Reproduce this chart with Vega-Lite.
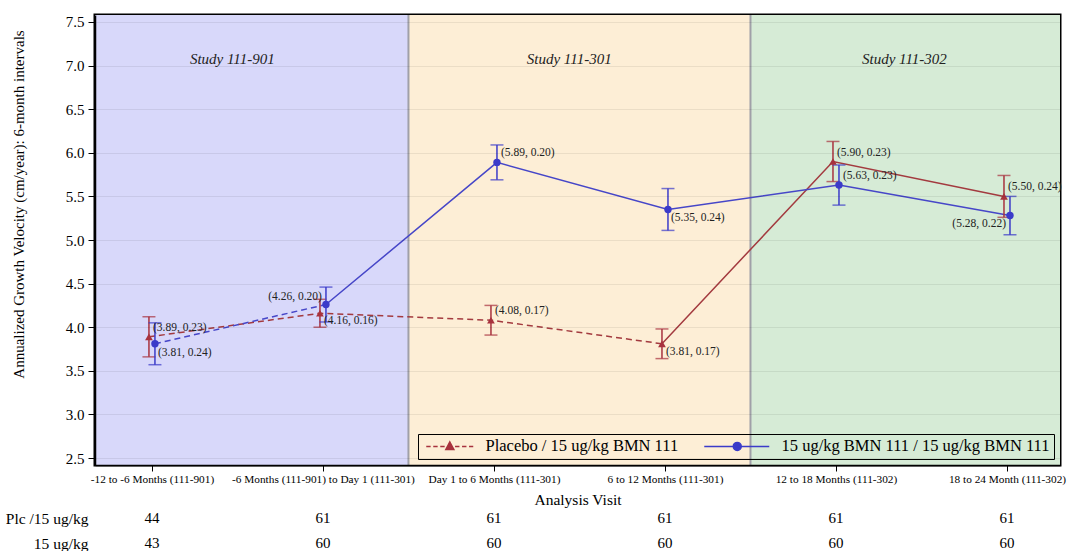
{
  "$schema": "https://vega.github.io/schema/vega-lite/v6.json",
  "background": "white",
  "padding": {"left": 5, "top": 12, "right": 5, "bottom": 0},
  "spacing": 0,
  "resolve": {"scale": {"color": "independent", "fill": "independent"}, "legend": {"color": "independent", "fill": "independent"}},
  "config": {
    "font": "Liberation Serif",
    "view": {"stroke": null},
    "axis": {"labelColor": "#000", "titleColor": "#000", "tickColor": "#000", "domainColor": "#000", "titleFontWeight": "normal", "labelFont": "Liberation Serif", "titleFont": "Liberation Serif"},
    "legend": {
      "title": null, "orient": "bottom-right", "direction": "horizontal", "offset": 6, "padding": 4,
      "strokeColor": "#000", "labelFont": "Liberation Serif", "labelFontSize": 16.5, "labelColor": "#000",
      "symbolSize": 64, "labelOffset": 47, "columnPadding": 22, "symbolStrokeWidth": 1.5, "labelLimit": 400
    }
  },
  "datasets": {
    "pts": [
      {"series": "Placebo / 15 ug/kg BMN 111", "idx": 0, "mean": 3.89, "se": 0.23, "label": "(3.89, 0.23)"},
      {"series": "Placebo / 15 ug/kg BMN 111", "idx": 1, "mean": 4.16, "se": 0.16, "label": "(4.16, 0.16)"},
      {"series": "Placebo / 15 ug/kg BMN 111", "idx": 2, "mean": 4.08, "se": 0.17, "label": "(4.08, 0.17)"},
      {"series": "Placebo / 15 ug/kg BMN 111", "idx": 3, "mean": 3.81, "se": 0.17, "label": "(3.81, 0.17)"},
      {"series": "Placebo / 15 ug/kg BMN 111", "idx": 4, "mean": 5.90, "se": 0.23, "label": "(5.90, 0.23)"},
      {"series": "Placebo / 15 ug/kg BMN 111", "idx": 5, "mean": 5.50, "se": 0.24, "label": "(5.50, 0.24)"},
      {"series": "15 ug/kg BMN 111 / 15 ug/kg BMN 111", "idx": 0, "mean": 3.81, "se": 0.24, "label": "(3.81, 0.24)"},
      {"series": "15 ug/kg BMN 111 / 15 ug/kg BMN 111", "idx": 1, "mean": 4.26, "se": 0.20, "label": "(4.26, 0.20)"},
      {"series": "15 ug/kg BMN 111 / 15 ug/kg BMN 111", "idx": 2, "mean": 5.89, "se": 0.20, "label": "(5.89, 0.20)"},
      {"series": "15 ug/kg BMN 111 / 15 ug/kg BMN 111", "idx": 3, "mean": 5.35, "se": 0.24, "label": "(5.35, 0.24)"},
      {"series": "15 ug/kg BMN 111 / 15 ug/kg BMN 111", "idx": 4, "mean": 5.63, "se": 0.23, "label": "(5.63, 0.23)"},
      {"series": "15 ug/kg BMN 111 / 15 ug/kg BMN 111", "idx": 5, "mean": 5.28, "se": 0.22, "label": "(5.28, 0.22)"}
    ],
    "studies": [
      {"study": "Study 111-901", "start": -1, "end": 1.5, "labelPos": 0.47},
      {"study": "Study 111-301", "start": 1.5, "end": 3.5, "labelPos": 2.44},
      {"study": "Study 111-302", "start": 3.5, "end": 6, "labelPos": 4.4}
    ],
    "counts": [
      {"row": "Plc /15 ug/kg", "idx": 0, "n": 44},
      {"row": "Plc /15 ug/kg", "idx": 1, "n": 61},
      {"row": "Plc /15 ug/kg", "idx": 2, "n": 61},
      {"row": "Plc /15 ug/kg", "idx": 3, "n": 61},
      {"row": "Plc /15 ug/kg", "idx": 4, "n": 61},
      {"row": "Plc /15 ug/kg", "idx": 5, "n": 61},
      {"row": "15 ug/kg", "idx": 0, "n": 43},
      {"row": "15 ug/kg", "idx": 1, "n": 60},
      {"row": "15 ug/kg", "idx": 2, "n": 60},
      {"row": "15 ug/kg", "idx": 3, "n": 60},
      {"row": "15 ug/kg", "idx": 4, "n": 60},
      {"row": "15 ug/kg", "idx": 5, "n": 60}
    ]
  },
  "vconcat": [
    {
      "width": 965,
      "height": 450,
      "view": {"stroke": "#000", "strokeWidth": 3},
      "data": {"name": "pts"},
      "encoding": {
        "x": {
          "field": "idx", "type": "quantitative",
          "scale": {"domain": [-0.333, 5.31], "nice": false, "zero": false},
          "axis": {
            "title": "Analysis Visit",
            "values": [0, 1, 2, 3, 4, 5],
            "labelExpr": "['-12 to -6 Months (111-901)', '-6 Months (111-901) to Day 1 (111-301)', 'Day 1 to 6 Months (111-301)', '6 to 12 Months (111-301)', '12 to 18  Months (111-302)', '18 to 24 Month  (111-302)'][datum.value]",
            "grid": false, "tickSize": 6, "labelPadding": 2, "labelFontSize": 11.3, "labelLimit": 300, "titleFontSize": 15.5, "titlePadding": 8,
            "domainWidth": 1.5, "zindex": 1, "labelFlush": false, "labelOverlap": false
          }
        }
      },
      "layer": [
        {
          "data": {"name": "studies"},
          "mark": {"type": "rect", "clip": true},
          "encoding": {
            "x": {"field": "start", "type": "quantitative"},
            "x2": {"field": "end"},
            "y": {"value": 0},
            "y2": {"value": "height"},
            "fill": {"field": "study", "type": "nominal", "scale": {"domain": ["Study 111-901", "Study 111-301", "Study 111-302"], "range": ["#d8d8fa", "#fdeed6", "#d6ebd6"]}, "legend": null}
          }
        },
        {
          "data": {"name": "studies"},
          "transform": [{"filter": "datum.start > 0"}],
          "mark": {"type": "rule", "color": "#a0a0a8", "strokeWidth": 2},
          "encoding": {
            "x": {"field": "start", "type": "quantitative"},
            "y": {"value": 0},
            "y2": {"value": "height"}
          }
        },
        {
          "transform": [{"filter": "datum.series === 'Placebo / 15 ug/kg BMN 111' && datum.idx <= 3"}],
          "mark": {"type": "line", "color": "#a33a3f", "strokeWidth": 1.5, "strokeDash": [6, 4], "xOffset": -3},
          "encoding": {
            "y": {
              "field": "mean", "type": "quantitative",
              "title": "Annualized Growth Velocity (cm/year): 6-month intervals",
              "scale": {"domain": [2.42, 7.58], "nice": false, "zero": false},
              "axis": {
                "title": "Annualized Growth Velocity (cm/year): 6-month intervals",
                "values": [2.5, 3, 3.5, 4, 4.5, 5, 5.5, 6, 6.5, 7, 7.5],
                "format": ".1f", "tickSize": 7, "labelPadding": 4, "labelFontSize": 15, "titleFontSize": 15,
                "titleX": -77, "titleY": 189, "titleBaseline": "middle",
                "gridColor": "#000", "gridOpacity": 0.07, "zindex": 1, "domainWidth": 1.5
              }
            }
          }
        },
        {
          "data": {"name": "studies"},
          "mark": {"type": "text", "fontStyle": "italic", "fontSize": 15, "font": "Liberation Serif", "color": "#222", "baseline": "middle"},
          "encoding": {
            "x": {"field": "labelPos", "type": "quantitative"},
            "y": {"datum": 7.08, "type": "quantitative", "title": "Annualized Growth Velocity (cm/year): 6-month intervals"},
            "text": {"field": "study", "type": "nominal"}
          }
        },
        {
          "transform": [{"filter": "datum.series === 'Placebo / 15 ug/kg BMN 111' && datum.idx >= 3"}],
          "mark": {"type": "line", "color": "#a33a3f", "strokeWidth": 1.5, "xOffset": -3},
          "encoding": {"y": {"field": "mean", "type": "quantitative", "title": "Annualized Growth Velocity (cm/year): 6-month intervals"}}
        },
        {
          "transform": [{"filter": "datum.series === '15 ug/kg BMN 111 / 15 ug/kg BMN 111' && datum.idx <= 1"}],
          "mark": {"type": "line", "color": "#4646c8", "strokeWidth": 1.5, "strokeDash": [6, 4], "xOffset": 3},
          "encoding": {"y": {"field": "mean", "type": "quantitative", "title": "Annualized Growth Velocity (cm/year): 6-month intervals"}}
        },
        {
          "transform": [{"filter": "datum.series === '15 ug/kg BMN 111 / 15 ug/kg BMN 111' && datum.idx >= 1"}],
          "mark": {"type": "line", "color": "#4646c8", "strokeWidth": 1.5, "xOffset": 3},
          "encoding": {"y": {"field": "mean", "type": "quantitative", "title": "Annualized Growth Velocity (cm/year): 6-month intervals"}}
        },
        {
          "transform": [{"filter": "datum.series === 'Placebo / 15 ug/kg BMN 111'"}],
          "mark": {"type": "errorbar", "color": "#a8323e", "thickness": 1.5, "ticks": {"size": 13, "xOffset": -3}, "rule": {"xOffset": -3}},
          "encoding": {"y": {"field": "mean", "type": "quantitative", "title": "Annualized Growth Velocity (cm/year): 6-month intervals"}, "yError": {"field": "se"}}
        },
        {
          "transform": [{"filter": "datum.series === '15 ug/kg BMN 111 / 15 ug/kg BMN 111'"}],
          "mark": {"type": "errorbar", "color": "#3b3bc9", "thickness": 1.5, "ticks": {"size": 13, "xOffset": 3}, "rule": {"xOffset": 3}},
          "encoding": {"y": {"field": "mean", "type": "quantitative", "title": "Annualized Growth Velocity (cm/year): 6-month intervals"}, "yError": {"field": "se"}}
        },
        {
          "transform": [{"filter": "datum.series === 'Placebo / 15 ug/kg BMN 111'"}],
          "mark": {"type": "point", "shape": "triangle-up", "filled": true, "size": 60, "opacity": 1, "xOffset": -3},
          "encoding": {
            "y": {"field": "mean", "type": "quantitative", "title": "Annualized Growth Velocity (cm/year): 6-month intervals"},
            "color": {
              "field": "series", "type": "nominal",
              "scale": {"domain": ["Placebo / 15 ug/kg BMN 111", "15 ug/kg BMN 111 / 15 ug/kg BMN 111"], "range": ["#a8323e", "#3b3bc9"]},
              "legend": {
                "symbolType": {"expr": "datum.value === 'Placebo / 15 ug/kg BMN 111' ? 'M-1,0H0.1M0.75,0H1.85M2.5,0H3.6M6.2,0H7.3M7.95,0H9.05M9.7,0H10.75M4.9,-1.1L5.9,0.8L3.9,0.8Z' : 'M-5.5,0H10.75M3.75,0A1,1 0 1,1 1.75,0A1,1 0 1,1 3.75,0Z'"},
                "symbolStrokeColor": {"expr": "datum.value === 'Placebo / 15 ug/kg BMN 111' ? '#a8323e' : '#3b3bc9'"},
                "symbolStrokeWidth": 1.5
              }
            }
          }
        },
        {
          "transform": [{"filter": "datum.series === '15 ug/kg BMN 111 / 15 ug/kg BMN 111'"}],
          "mark": {"type": "point", "shape": "circle", "filled": true, "size": 55, "opacity": 1, "xOffset": 3},
          "encoding": {
            "y": {"field": "mean", "type": "quantitative", "title": "Annualized Growth Velocity (cm/year): 6-month intervals"},
            "color": {
              "field": "series", "type": "nominal",
              "scale": {"domain": ["Placebo / 15 ug/kg BMN 111", "15 ug/kg BMN 111 / 15 ug/kg BMN 111"], "range": ["#a8323e", "#3b3bc9"]},
              "legend": {
                "symbolType": {"expr": "datum.value === 'Placebo / 15 ug/kg BMN 111' ? 'M-1,0H0.1M0.75,0H1.85M2.5,0H3.6M6.2,0H7.3M7.95,0H9.05M9.7,0H10.75M4.9,-1.1L5.9,0.8L3.9,0.8Z' : 'M-5.5,0H10.75M3.75,0A1,1 0 1,1 1.75,0A1,1 0 1,1 3.75,0Z'"},
                "symbolStrokeColor": {"expr": "datum.value === 'Placebo / 15 ug/kg BMN 111' ? '#a8323e' : '#3b3bc9'"},
                "symbolStrokeWidth": 1.5
              }
            }
          }
        },
        {
          "transform": [{"filter": "datum.series === 'Placebo / 15 ug/kg BMN 111' && indexof([0, 2, 4, 5], datum.idx) >= 0"}],
          "mark": {"type": "text", "align": "left", "baseline": "middle", "xOffset": -3, "dx": 4, "dy": -9, "fontSize": 11.5, "font": "Liberation Serif", "color": "#222"},
          "encoding": {"y": {"field": "mean", "type": "quantitative", "title": "Annualized Growth Velocity (cm/year): 6-month intervals"}, "text": {"field": "label"}}
        },
        {
          "transform": [{"filter": "datum.series === 'Placebo / 15 ug/kg BMN 111' && indexof([1, 3], datum.idx) >= 0"}],
          "mark": {"type": "text", "align": "left", "baseline": "middle", "xOffset": -3, "dx": 4, "dy": 8, "fontSize": 11.5, "font": "Liberation Serif", "color": "#222"},
          "encoding": {"y": {"field": "mean", "type": "quantitative", "title": "Annualized Growth Velocity (cm/year): 6-month intervals"}, "text": {"field": "label"}}
        },
        {
          "transform": [{"filter": "datum.series === '15 ug/kg BMN 111 / 15 ug/kg BMN 111' && indexof([2, 4], datum.idx) >= 0"}],
          "mark": {"type": "text", "align": "left", "baseline": "middle", "xOffset": 3, "dx": 4, "dy": -9, "fontSize": 11.5, "font": "Liberation Serif", "color": "#222"},
          "encoding": {"y": {"field": "mean", "type": "quantitative", "title": "Annualized Growth Velocity (cm/year): 6-month intervals"}, "text": {"field": "label"}}
        },
        {
          "transform": [{"filter": "datum.series === '15 ug/kg BMN 111 / 15 ug/kg BMN 111' && indexof([0, 3], datum.idx) >= 0"}],
          "mark": {"type": "text", "align": "left", "baseline": "middle", "xOffset": 3, "dx": 3, "dy": 9, "fontSize": 11.5, "font": "Liberation Serif", "color": "#222"},
          "encoding": {"y": {"field": "mean", "type": "quantitative", "title": "Annualized Growth Velocity (cm/year): 6-month intervals"}, "text": {"field": "label"}}
        },
        {
          "transform": [{"filter": "datum.series === '15 ug/kg BMN 111 / 15 ug/kg BMN 111' && datum.idx == 1"}],
          "mark": {"type": "text", "align": "right", "baseline": "middle", "xOffset": 3, "dx": -4, "dy": -8, "fontSize": 11.5, "font": "Liberation Serif", "color": "#222"},
          "encoding": {"y": {"field": "mean", "type": "quantitative", "title": "Annualized Growth Velocity (cm/year): 6-month intervals"}, "text": {"field": "label"}}
        },
        {
          "transform": [{"filter": "datum.series === '15 ug/kg BMN 111 / 15 ug/kg BMN 111' && datum.idx == 5"}],
          "mark": {"type": "text", "align": "right", "baseline": "middle", "xOffset": 3, "dx": -4, "dy": 8, "fontSize": 11.5, "font": "Liberation Serif", "color": "#222"},
          "encoding": {"y": {"field": "mean", "type": "quantitative", "title": "Annualized Growth Velocity (cm/year): 6-month intervals"}, "text": {"field": "label"}}
        }
      ]
    },
    {
      "width": 965,
      "height": 41,
      "data": {"name": "counts"},
      "mark": {"type": "text", "font": "Liberation Serif", "fontSize": 15, "color": "#000", "baseline": "middle"},
      "encoding": {
        "x": {"field": "idx", "type": "quantitative", "scale": {"domain": [-0.333, 5.31], "nice": false, "zero": false}, "axis": null},
        "y": {"field": "row", "type": "nominal", "sort": ["Plc /15 ug/kg", "15 ug/kg"], "scale": {"padding": 0.32},
              "axis": {"title": null, "domain": false, "ticks": false, "labelPadding": 7, "labelFont": "Liberation Serif", "labelFontSize": 15.5, "labelColor": "#000"}},
        "text": {"field": "n", "type": "quantitative"}
      }
    }
  ]
}
